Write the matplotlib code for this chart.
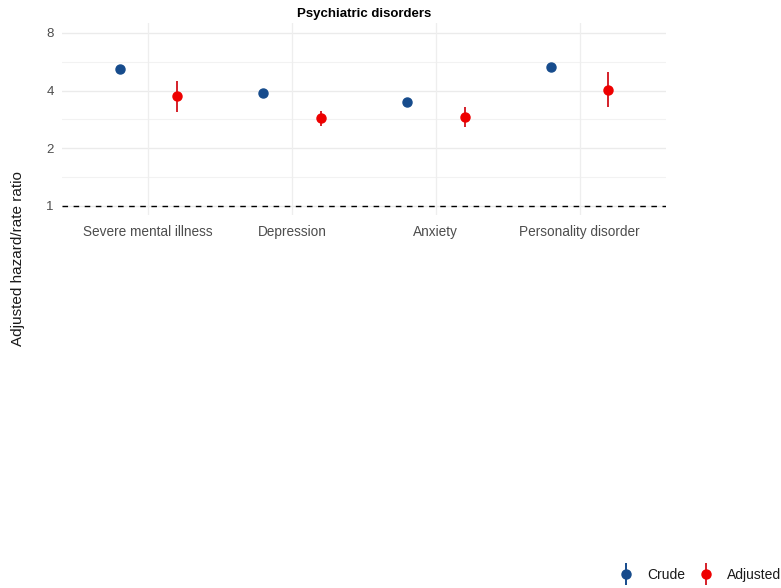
import matplotlib
matplotlib.use("Agg")
import matplotlib.pyplot as plt
import numpy as np
from matplotlib.legend_handler import HandlerErrorbar

plt.rcParams['font.family'] = ['Liberation Sans', 'DejaVu Sans']

categories = ["Severe mental illness", "Depression", "Anxiety", "Personality disorder"]
crude_est = [5.19, 3.89, 3.49, 5.32]
crude_lo = [5.08, 3.84, 3.45, 5.20]
crude_hi = [5.30, 3.94, 3.53, 5.44]
adj_est = [3.75, 2.88, 2.91, 4.03]
adj_lo = [3.09, 2.62, 2.59, 3.29]
adj_hi = [4.49, 3.13, 3.27, 5.00]
y_ticks = [1, 2, 4, 8]
series_names = ["Crude", "Adjusted"]

blue = "#164B8C"
red = "#EE0000"
red_line = "#D4202A"

W, H = 781, 588
fig = plt.figure(figsize=(W / 100, H / 100), dpi=100)
# panel in pixel coordinates
px0, px1, py0, py1 = 62, 666, 23, 215
ax = fig.add_axes([px0 / W, 1 - py1 / H, (px1 - px0) / W, (py1 - py0) / H])

ax.set_yscale('log', base=2)
ax.set_ylim(0.897, 9.0)
ax.set_xlim(0.4, len(categories) + 0.6)

x = np.arange(1, len(categories) + 1)
dodge = 0.2

# grid
for t in y_ticks:
    ax.axhline(t, color="#EBEBEB", lw=1.0, zorder=0)
for t in [np.sqrt(2), 2 * np.sqrt(2), 4 * np.sqrt(2)]:
    ax.axhline(t, color="#F2F2F2", lw=0.8, zorder=0)
for xi in x:
    ax.axvline(xi, color="#EEEEEE", lw=0.9, zorder=0)

ax.axhline(1, color="black", lw=1.0, ls=(0, (4, 4)), zorder=1)

ce = np.array(crude_est)
ae = np.array(adj_est)
h_crude = ax.errorbar(x - dodge, ce, yerr=[ce - np.array(crude_lo), np.array(crude_hi) - ce],
                      fmt='o', color=blue, ecolor=blue, elinewidth=1.4, capsize=0,
                      markersize=6.5, zorder=3)
h_adj = ax.errorbar(x + dodge, ae, yerr=[ae - np.array(adj_lo), np.array(adj_hi) - ae],
                    fmt='o', color=red, ecolor=red_line, elinewidth=1.4, capsize=0,
                    markersize=6.5, zorder=3)

ax.set_yticks(y_ticks)
ax.set_yticklabels([str(t) for t in y_ticks])
ax.yaxis.set_minor_locator(matplotlib.ticker.NullLocator())
ax.set_xticks(x)
ax.set_xticklabels(categories)
ax.tick_params(axis='both', length=0, labelcolor="#4D4D4D")
ax.tick_params(axis='x', pad=7, labelsize=9.8)
ax.tick_params(axis='y', pad=6, labelsize=9.5)
for s in ax.spines.values():
    s.set_visible(False)

ax.set_title("Psychiatric disorders", fontsize=9.5, fontweight='bold', pad=4)

fig.text(18 / W, 1 - 259 / H, "Adjusted hazard/rate ratio", rotation=90,
         ha='center', va='center', fontsize=11, color="#1A1A1A")

fig.legend([h_crude, h_adj], series_names, loc='center right',
           bbox_to_anchor=(1.007, 1 - 575 / H), ncol=2, frameon=False,
           fontsize=10, handlelength=1.0, handletextpad=1.0, columnspacing=1.0,
           borderaxespad=0.0, labelcolor="#1A1A1A",
           handler_map={type(h_crude): HandlerErrorbar(xerr_size=0.5, yerr_size=0.8)})

fig.savefig("out.png", dpi=100, facecolor="white")
